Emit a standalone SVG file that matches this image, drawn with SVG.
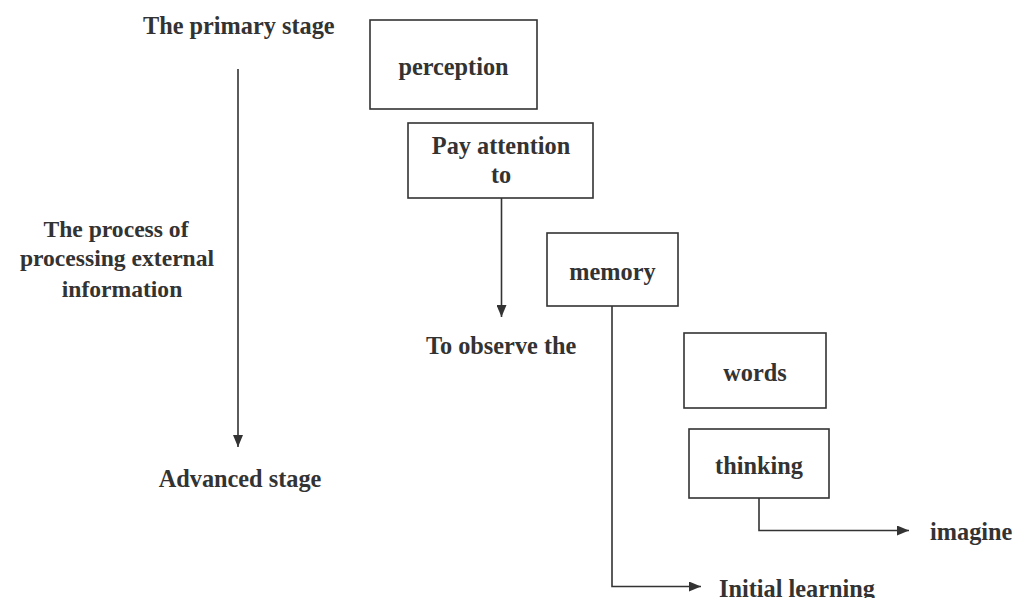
<svg xmlns="http://www.w3.org/2000/svg" width="1013" height="598" viewBox="0 0 1013 598">
<style>
.box{fill:#fff;stroke:#333;stroke-width:1.6}
.t{font-family:"Liberation Serif","Times New Roman",serif;font-weight:bold;font-size:24.3px;fill:#333}
.s{font-size:23.6px}
.c{text-anchor:middle}
.ln{fill:none;stroke:#333;stroke-width:1.6}
</style>
<defs>
<marker id="ah" viewBox="0 0 12 10" refX="12" refY="5" markerWidth="12" markerHeight="10" markerUnits="userSpaceOnUse" orient="auto">
<path d="M0,0 L12,5 L0,10 z" fill="#333"/>
</marker>
</defs>
<rect width="1013" height="598" fill="#fff"/>
<g id="connectors">
<path class="ln" d="M238,69 V447" marker-end="url(#ah)"/>
<path class="ln" d="M501.5,198 V317" marker-end="url(#ah)"/>
<path class="ln" d="M612,306 V586.5 H701" marker-end="url(#ah)"/>
<path class="ln" d="M759,498 V530.5 H909" marker-end="url(#ah)"/>
</g>
<g id="primary-stage"><text class="t" x="143" y="34">The primary stage</text></g>
<g id="process-label">
<text class="t s c" x="116" y="237">The process of</text>
<text class="t s c" x="117" y="266">processing external</text>
<text class="t s c" x="122" y="297">information</text>
</g>
<g id="advanced-stage"><text class="t c" x="240" y="487">Advanced stage</text></g>
<g id="perception"><rect class="box" x="370" y="20" width="167" height="89"/><text class="t c" x="453.5" y="75">perception</text></g>
<g id="pay-attention"><rect class="box" x="408" y="123" width="185" height="75"/><text class="t c" x="501" y="154">Pay attention</text><text class="t c" x="501" y="183">to</text></g>
<g id="observe"><text class="t" x="426" y="354">To observe the</text></g>
<g id="memory"><rect class="box" x="547" y="233" width="131" height="73"/><text class="t c" x="612.5" y="280">memory</text></g>
<g id="words"><rect class="box" x="684" y="333" width="142" height="75"/><text class="t c" x="755" y="381">words</text></g>
<g id="thinking"><rect class="box" x="689" y="429" width="140" height="69"/><text class="t c" x="759" y="474">thinking</text></g>
<g id="imagine"><text class="t" x="930" y="540">imagine</text></g>
<g id="initial-learning"><text class="t" x="719" y="597">Initial learning</text></g>
</svg>
